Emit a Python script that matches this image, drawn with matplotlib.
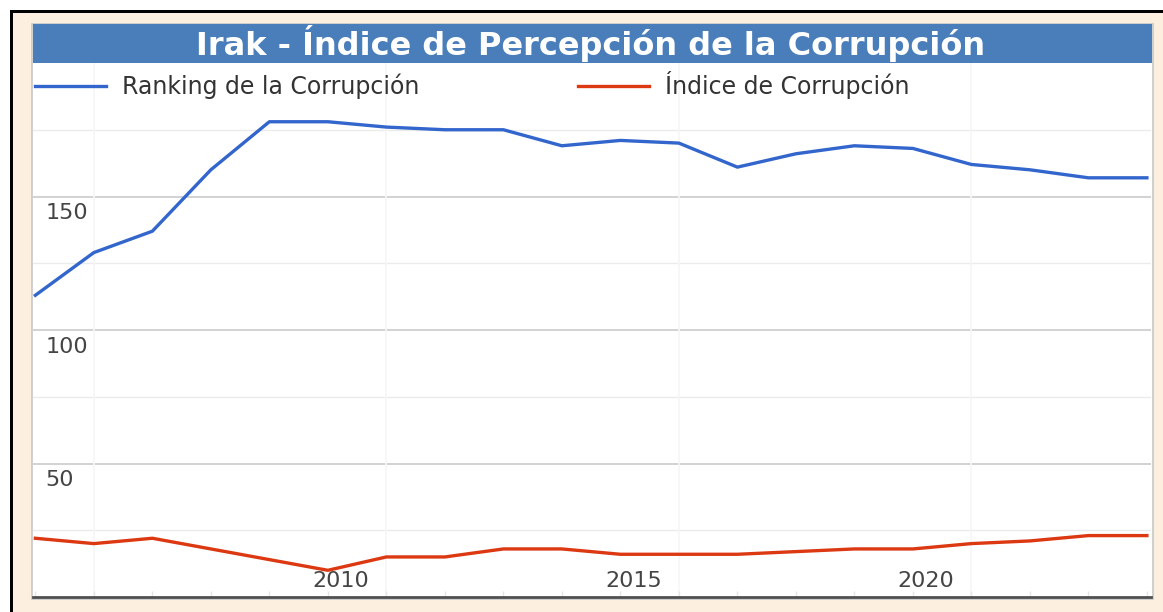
import numpy as np
from matplotlib import pyplot as plt
from matplotlib.patches import Rectangle
from matplotlib.lines import Line2D

# data
years = list(range(2005, 2025))
ranking = [113, 129, 137, 160, 178, 178, 176, 175, 175, 169,
           171, 170, 161, 166, 169, 168, 162, 160, 157, 157]
indice = [22, 20, 22, 18, 14, 10, 15, 15, 18, 18,
          16, 16, 16, 17, 18, 18, 20, 21, 23, 23]
y_labels = [50, 100, 150]
x_labels = [2010, 2015, 2020]
title = 'Irak - Índice de Percepción de la Corrupción'
names = ['Ranking de la Corrupción', 'Índice de Corrupción']

W, H = 1163, 612
blue = '#3366cc'
red = '#dc3912'
beige = '#fdefe0'
bar = '#4a7ebb'

def fx(p):
    return p / W

def fy(p):
    return 1 - p / H

fig = plt.figure(figsize=(W / 100, H / 100), dpi=100)
fig.patch.set_facecolor('white')

# black frame + beige mat
fig.patches.append(Rectangle((fx(10), 0), 1, fy(10), transform=fig.transFigure,
                             facecolor='black', edgecolor='none', zorder=-3))
fig.patches.append(Rectangle((fx(13), 0), 1, fy(13), transform=fig.transFigure,
                             facecolor=beige, edgecolor='none', zorder=-2))
# white chart panel with grey edge
fig.patches.append(Rectangle((fx(32), fy(599)), fx(1153 - 32), (599 - 24) / H,
                             transform=fig.transFigure, facecolor='white',
                             edgecolor='#c8c8c8', linewidth=1.2, zorder=-1))
# title bar
fig.patches.append(Rectangle((fx(33), fy(63)), fx(1152 - 33), (63 - 24) / H,
                             transform=fig.transFigure, facecolor=bar,
                             edgecolor='none', zorder=1))
fig.text(fx(591), fy(55.5), title, color='white', fontsize=23, fontweight='bold',
         ha='center', va='baseline', zorder=5)

ax = fig.add_axes([fx(33), fy(597), fx(1151 - 33), (597 - 63) / H])
ax.set_zorder(2)
ax.set_facecolor('none')
ax.set_xlim(2004.96, 2024.07)
ax.set_ylim(0, 200)

# horizontal grid
for v in range(25, 200, 25):
    ax.axhline(v, color='#cfcfcf' if v % 50 == 0 else '#ebebeb',
               linewidth=1.3 if v % 50 == 0 else 1.0, zorder=1)
# faint vertical grid
for v in [2006, 2011, 2016, 2021]:
    ax.axvline(v, color='#f6f6f6', linewidth=1.2, zorder=1)

ax.plot(years, ranking, color=blue, linewidth=2.4, zorder=3)
ax.plot(years, indice, color=red, linewidth=2.4, zorder=3)

for s in ['top', 'left', 'right']:
    ax.spines[s].set_visible(False)
ax.spines['bottom'].set_color('#505050')
ax.spines['bottom'].set_linewidth(2)

ax.set_yticks([])
ax.set_xticks(years)
ax.set_xticklabels([])
ax.tick_params(axis='x', direction='in', length=4, color='#e6e6e6', width=1)

for v in y_labels:
    ax.annotate(str(v), xy=(0, v), xycoords=('axes fraction', 'data'),
                xytext=(9, -5), textcoords='offset points', ha='left', va='top',
                fontsize=16, color='#444444')
for v in x_labels:
    ax.annotate(str(v), xy=(v, 0), xycoords=('data', 'axes fraction'),
                xytext=(9.5, 4), textcoords='offset points', ha='center',
                va='bottom', fontsize=16, color='#444444')

handles = [Line2D([], [], color=blue, linewidth=2.4),
           Line2D([], [], color=red, linewidth=2.4)]
leg = fig.legend(handles, names, loc='center left', bbox_to_anchor=(fx(35), fy(85)),
                 bbox_transform=fig.transFigure, ncol=2, frameon=False, fontsize=17,
                 borderpad=0, borderaxespad=0, handlelength=3.0, handletextpad=0.7,
                 columnspacing=6.7, labelcolor='#333333')
leg.set_zorder(6)

fig.savefig('out.png', dpi=100)
